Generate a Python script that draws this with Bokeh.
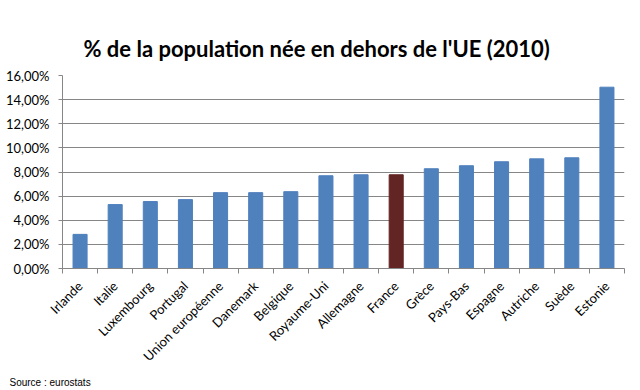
import math
from bokeh.plotting import figure
from bokeh.models import FixedTicker, Range1d, Title, ColumnDataSource
from bokeh.embed import file_html
from bokeh.resources import INLINE

# ---- data ----
countries = ["Irlande", "Italie", "Luxembourg", "Portugal", "Union européenne",
             "Danemark", "Belgique", "Royaume-Uni", "Allemagne", "France",
             "Grèce", "Pays-Bas", "Espagne", "Autriche", "Suède", "Estonie"]
values = [2.83, 5.30, 5.55, 5.71, 6.29, 6.29, 6.37, 7.69, 7.77, 7.77,
          8.27, 8.52, 8.85, 9.09, 9.18, 15.03]
highlight = "France"
y_ticks = [0, 2, 4, 6, 8, 10, 12, 14, 16]
title_text = "% de la population née en dehors de l'UE (2010)"
source_text = "Source : eurostats"

BLUE = "#4F81BD"
RED = "#632523"
GRID = "#868686"

idx = list(range(len(countries)))
colors = [RED if c == highlight else BLUE for c in countries]
src = ColumnDataSource(dict(x=idx, top=values, color=colors, name=countries))

p = figure(width=640, height=390, output_backend="svg", toolbar_location=None,
           x_range=Range1d(-0.5, len(countries) - 0.5),
           y_range=Range1d(y_ticks[0], y_ticks[-1]),
           min_border_left=62, min_border_right=16,
           min_border_top=75, min_border_bottom=121)
p.outline_line_color = None
p.background_fill_color = "white"
p.border_fill_color = "white"

p.vbar(x="x", top="top", width=0.4, color="color", source=src)

# x axis
p.xaxis.ticker = FixedTicker(ticks=idx, minor_ticks=[i - 0.5 for i in idx] + [len(idx) - 0.5])
p.xaxis.major_label_overrides = {i: c for i, c in zip(idx, countries)}
p.xaxis.major_label_orientation = math.pi / 4
p.xaxis.major_tick_line_color = None
p.xaxis.major_tick_out = 0
p.xaxis.major_tick_in = 0
p.xaxis.minor_tick_line_color = GRID
p.xaxis.minor_tick_out = 5
p.xaxis.minor_tick_in = 0
p.xaxis.major_label_standoff = 10
p.xaxis.axis_line_color = GRID
p.xaxis.major_label_text_font = "Lato"
p.xaxis.major_label_text_font_size = "13px"
p.xaxis.major_label_text_color = "#000000"

# y axis
p.yaxis.ticker = FixedTicker(ticks=y_ticks)
p.yaxis.major_label_overrides = {t: f"{t:.2f}".replace(".", ",") + "%" for t in y_ticks}
p.yaxis.major_tick_line_color = GRID
p.yaxis.major_tick_out = 4
p.yaxis.major_tick_in = 0
p.yaxis.minor_tick_line_color = None
p.yaxis.axis_line_color = GRID
p.yaxis.major_label_standoff = 9
p.yaxis.major_label_text_font = "Lato"
p.yaxis.major_label_text_font_size = "13px"
p.yaxis.major_label_text_color = "#000000"

p.xgrid.grid_line_color = None
p.ygrid.grid_line_color = GRID
p.ygrid.grid_line_width = 1

p.title.text = title_text
p.title.align = "left"
p.title.offset = 21
p.title.text_font = "Lato"
p.title.text_font_style = "bold"
p.title.text_font_size = "22px"
p.title.text_color = "#000000"
p.title.standoff = 27

p.add_layout(Title(text=source_text, align="left", offset=-53, standoff=5,
                   text_font="Liberation Sans", text_font_style="normal",
                   text_font_size="10px", text_color="#000000"), "below")

open("out.html", "w").write(file_html(p, INLINE))
